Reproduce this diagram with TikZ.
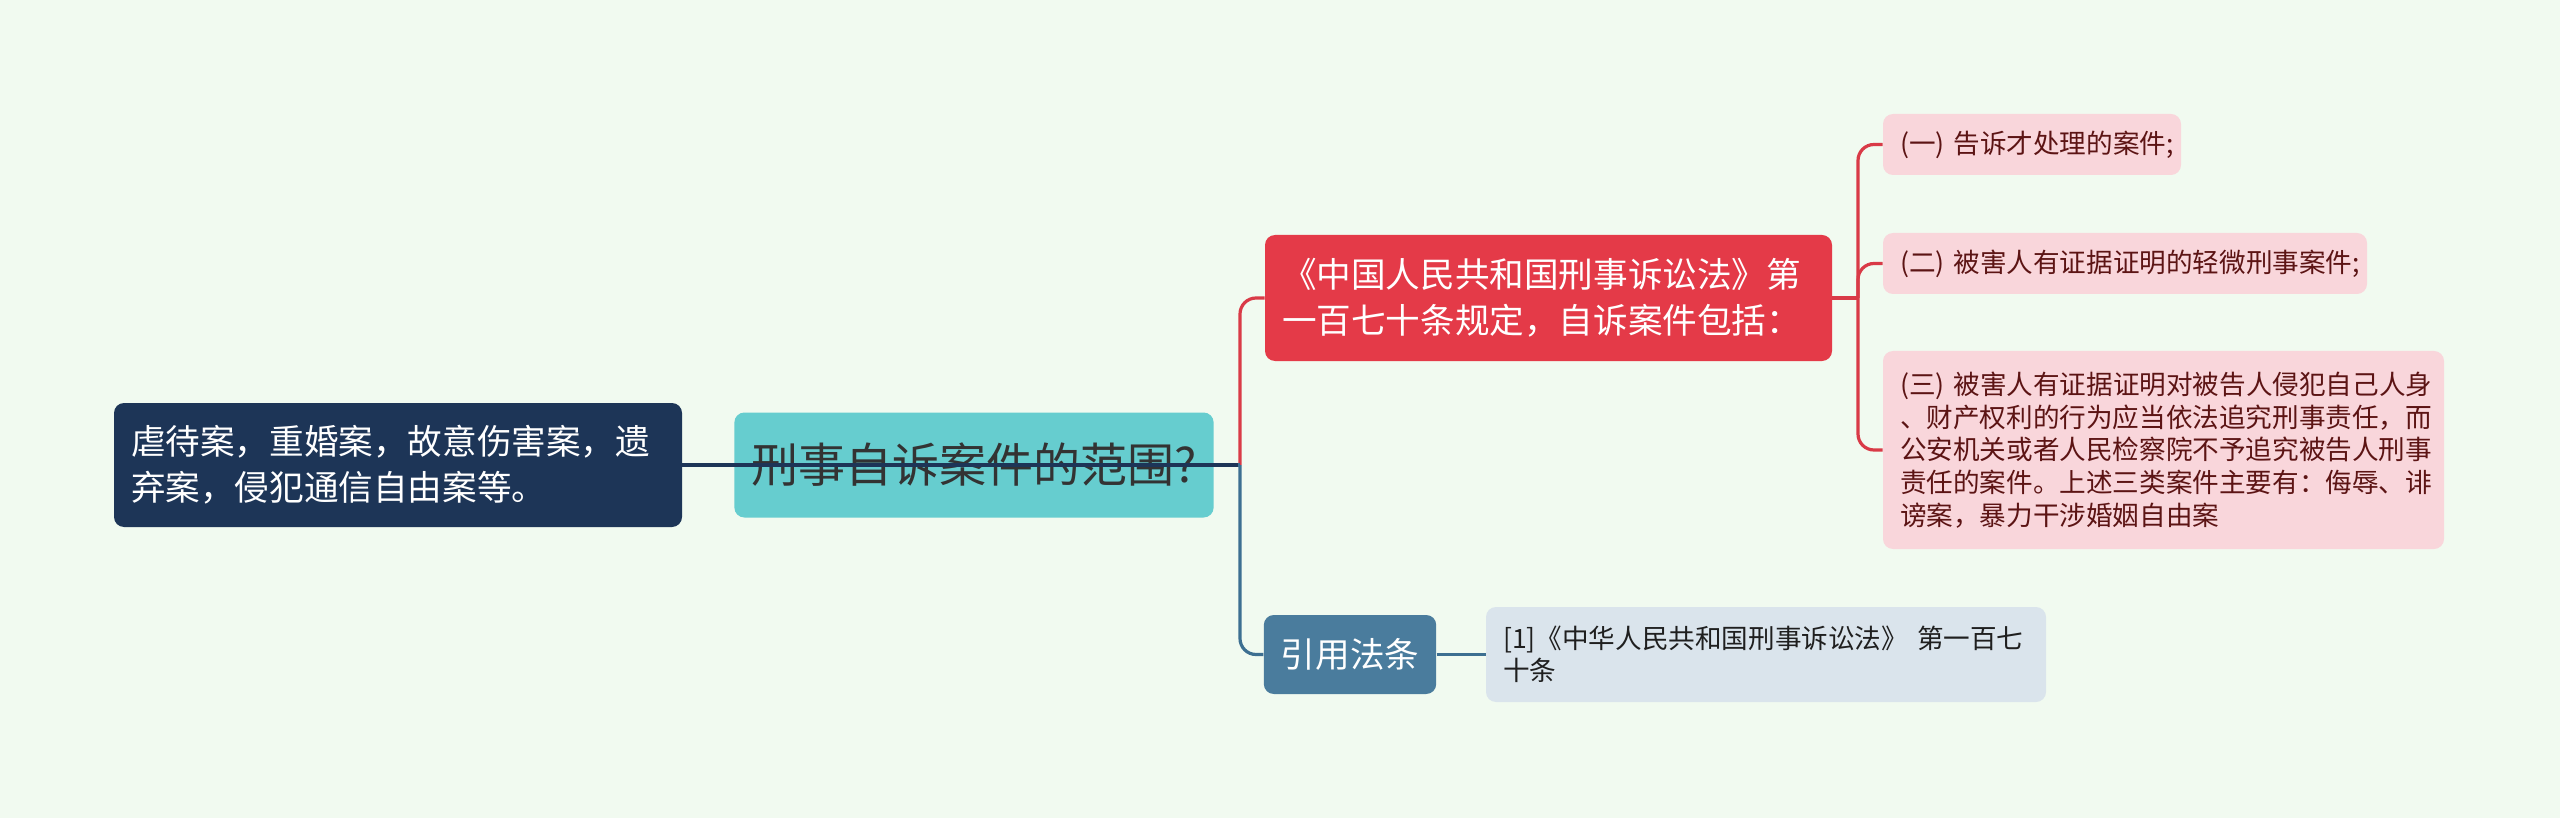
\documentclass[tikz,border=0pt]{standalone}
\usepackage{fontspec}
\setmainfont{Noto Sans CJK SC}
\definecolor{bgc}{HTML}{F1FAF0}
\definecolor{navyc}{HTML}{1D3557}
\definecolor{tealc}{HTML}{66CDCF}
\definecolor{redc}{HTML}{E43A48}
\definecolor{pinkc}{HTML}{F9D6DB}
\definecolor{pinktxt}{HTML}{5C1414}
\definecolor{bluec}{HTML}{4A7C9D}
\definecolor{greyc}{HTML}{DAE4EC}
\definecolor{redline}{HTML}{D93A47}
\definecolor{blueline}{HTML}{3D6F91}
\begin{document}
\begin{tikzpicture}[x=0.5pt,y=-0.5pt,
  box/.style={rounded corners=5pt, inner xsep=8.5pt, inner ysep=0pt, anchor=center},
  leftbox/.style={box, align=left},
  rl/.style={draw=redline, line width=1.6pt, rounded corners=8pt},
  bl/.style={draw=blueline, line width=1.6pt, rounded corners=8pt},
  nl/.style={draw=navyc, line width=1.6pt}]
\useasboundingbox[fill=bgc] (0,0) rectangle (2560,818);

% root and left child
\node[box, fill=tealc, text=black!80, minimum width=239pt, minimum height=52.5pt,
  font=\fontsize{23.5}{28}\selectfont] (root) at (974,465) {刑事自诉案件的范围?};
\node[leftbox, fill=navyc, text=white, text width=267pt, minimum height=62pt,
  font=\fontsize{17.3}{23}\selectfont] (left) at (398,465)
  {虐待案，重婚案，故意伤害案，遗\\弃案，侵犯通信自由案等。};

% right children
\node[leftbox, fill=redc, text=white, text width=266.5pt, minimum height=63pt,
  font=\fontsize{17.3}{23}\selectfont] (law) at (1548.5,298)
  {《中国人民共和国刑事诉讼法》第\\一百七十条规定，自诉案件包括：};
\node[box, fill=bluec, text=white, minimum width=85pt, minimum height=39.5pt,
  font=\fontsize{17.3}{23}\selectfont] (cite) at (1350,654.5) {引用法条};

% pink items
\node[leftbox, fill=pinkc, text=pinktxt, text width=132pt, minimum height=30.5pt,
  font=\fontsize{13.3}{16.3}\selectfont] (p1) at (2032,144.5) {(一)~告诉才处理的案件;};
\node[leftbox, fill=pinkc, text=pinktxt, text width=225pt, minimum height=30.5pt,
  font=\fontsize{13.3}{16.3}\selectfont] (p2) at (2125,263.5) {(二)~被害人有证据证明的轻微刑事案件;};
\node[leftbox, fill=pinkc, text=pinktxt, text width=263.5pt, minimum height=99pt,
  font=\fontsize{13.3}{16.3}\selectfont] (p3) at (2163.5,450)
  {(三)~被害人有证据证明对被告人侵犯自己人身\\、财产权利的行为应当依法追究刑事责任，而\\公安机关或者人民检察院不予追究被告人刑事\\责任的案件。上述三类案件主要有：侮辱、诽\\谤案，暴力干涉婚姻自由案};

% reference
\node[leftbox, fill=greyc, text=black!88, text width=263pt, minimum height=47.5pt,
  font=\fontsize{13.3}{16.3}\selectfont] (ref) at (1766,654.5)
  {[1]《中华人民共和国刑事诉讼法》~第一百七\\十条};

% connectors
\coordinate (tr) at (1240,465);
\coordinate (pt) at (1858,298);
\draw[rl] (tr) |- (law.west);
\draw[bl] (tr) |- (cite.west);
\draw[bl] (root.east) -- (tr);
\draw[nl] (1238,465) -- (left.east);
\draw[bl] (cite.east) -- (ref.west);
\draw[rl] (law.east) -- (pt);
\draw[rl] (pt) |- (p1.west);
\draw[rl] (pt) |- (p2.west);
\draw[rl] (pt) |- (p3.west);
\end{tikzpicture}
\end{document}
